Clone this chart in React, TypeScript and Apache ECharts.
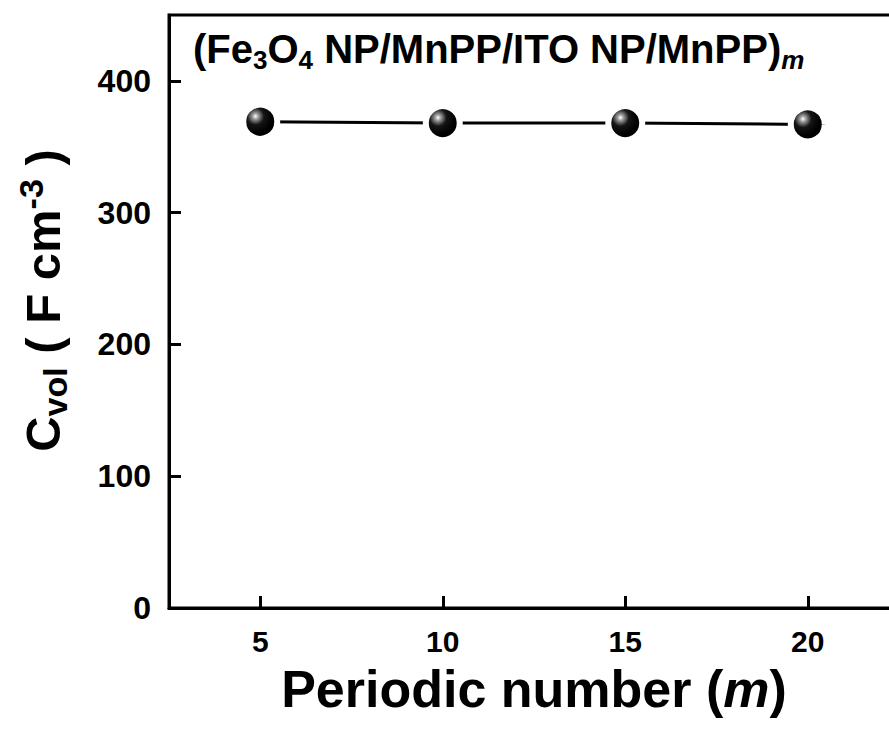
import React, { useEffect, useRef } from "react";
import * as echarts from "echarts";

const periods = [5, 10, 15, 20];
const cvol = [369, 368, 368, 367];
const xTicks = [5, 10, 15, 20];
const yTicks = [0, 100, 200, 300, 400];

const FONT = "'Liberation Sans', Arial, Helvetica, sans-serif";

export default function App() {
  const ref = useRef<HTMLDivElement>(null);
  useEffect(() => {
    if (!ref.current) return;
    const chart = echarts.init(ref.current, null, { renderer: "svg" });
    const sphere = new echarts.graphic.RadialGradient(0.36, 0.34, 0.5, [
      { offset: 0, color: "#ffffff" },
      { offset: 0.18, color: "#9a9a9a" },
      { offset: 0.5, color: "#151515" },
      { offset: 1, color: "#000000" },
    ]);
    chart.setOption({
      animation: false,
      backgroundColor: "#ffffff",
      title: {
        left: 188,
        top: 20,
        text: "{a|(Fe}{s|3}{a|O}{s|4}{a| NP/MnPP/ITO NP/MnPP)}{m|m}",
        textStyle: {
          rich: {
            a: { fontFamily: FONT, fontWeight: "bold", fontSize: 40, color: "#000", lineHeight: 48 },
            s: { fontFamily: FONT, fontWeight: "bold", fontSize: 26, color: "#000", verticalAlign: "bottom", lineHeight: 26 },
            m: { fontFamily: FONT, fontWeight: "bold", fontStyle: "italic", fontSize: 26, color: "#000", verticalAlign: "bottom", lineHeight: 26 },
          },
        },
      },
      grid: {
        left: 169,
        right: 1,
        top: 15,
        bottom: 123,
        show: true,
        borderColor: "#000",
        borderWidth: 3,
        backgroundColor: "transparent",
      },
      xAxis: {
        type: "value",
        min: 2.5,
        max: 22.5,
        name: "Periodic number ({i|m})",
        nameLocation: "middle",
        nameGap: 55,
        nameTextStyle: {
          fontFamily: FONT,
          fontWeight: "bold",
          fontSize: 52,
          color: "#000",
          rich: {
            i: { fontFamily: FONT, fontWeight: "bold", fontStyle: "italic", fontSize: 52, color: "#000" },
          },
        },
        axisLine: { show: true, onZero: false, lineStyle: { color: "#000", width: 3 } },
        axisTick: { show: true, inside: true, length: 12, customValues: xTicks, lineStyle: { color: "#000", width: 3 } },
        axisLabel: {
          customValues: xTicks,
          margin: 18,
          fontFamily: FONT,
          fontWeight: "bold",
          fontSize: 30,
          color: "#000",
        },
        splitLine: { show: false },
      },
      yAxis: {
        type: "value",
        min: 0,
        max: 450,
        name: "{a|C}{s|vol}{a| ( F cm}{p|-3}{a| )}",
        nameLocation: "middle",
        nameGap: 97,
        nameTextStyle: {
          padding: [0, 0, 0, 22],
          rich: {
            a: { fontFamily: FONT, fontWeight: "bold", fontSize: 49, color: "#000", lineHeight: 58 },
            s: { fontFamily: FONT, fontWeight: "bold", fontSize: 34, color: "#000", verticalAlign: "bottom", lineHeight: 20 },
            p: { fontFamily: FONT, fontWeight: "bold", fontSize: 34, color: "#000", verticalAlign: "top", lineHeight: 34 },
          },
        },
        axisLine: { show: true, lineStyle: { color: "#000", width: 3 } },
        axisTick: { show: true, inside: true, length: 12, customValues: yTicks, lineStyle: { color: "#000", width: 3 } },
        axisLabel: {
          customValues: yTicks,
          margin: 18,
          fontFamily: FONT,
          fontWeight: "bold",
          fontSize: 32,
          color: "#000",
        },
        splitLine: { show: false },
      },
      series: [
        {
          type: "line",
          data: periods.map((p, i) => [p, cvol[i]]),
          symbol: "circle",
          symbolSize: 34,
          lineStyle: { color: "#000", width: 3 },
          itemStyle: { color: sphere, borderColor: "#ffffff", borderWidth: 6 },
        },
      ],
    });
    return () => chart.dispose();
  }, []);
  return (
    <div
      style={{ position: "fixed", left: 0, top: 0, width: 889, height: 731, overflow: "hidden", background: "#fff" }}
    >
      <div ref={ref} style={{ position: "absolute", left: 0, top: 0, width: 900, height: 731 }} />
    </div>
  );
}
